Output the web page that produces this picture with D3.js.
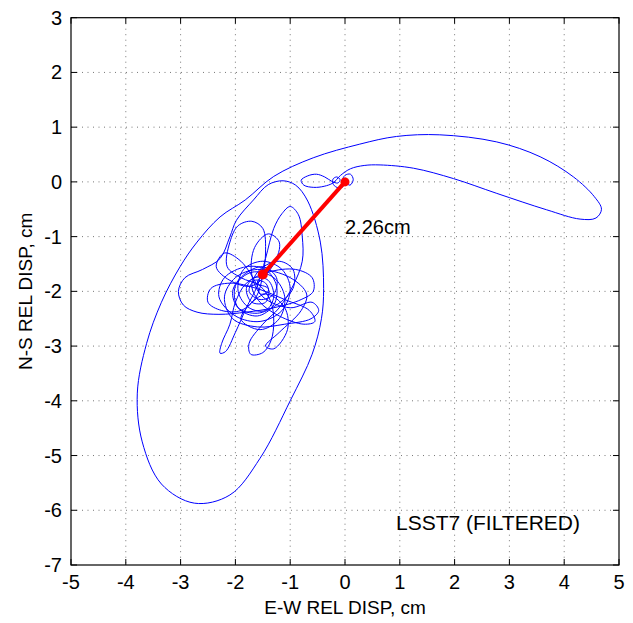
<!DOCTYPE html>
<html>
<head>
<meta charset="utf-8">
<script src="https://cdn.jsdelivr.net/npm/d3@7"></script>
<style>
body { margin: 0; background: #fff; }
text { font-family: "Liberation Sans", Arial, Helvetica, sans-serif; fill: #000; }
</style>
</head>
<body>
<script>

// tick values
let xTicks = [-5, -4, -3, -2, -1, 0, 1, 2, 3, 4, 5];
let yTicks = [3, 2, 1, 0, -1, -2, -3, -4, -5, -6, -7];

// particle path, in cm (E-W, N-S)
let originLoops = [[0.0,0.0],[0.09,-0.06],[0.15,0.04],[0.1,0.14],[0.0,0.12],[-0.05,0.02],[-0.03,-0.08],
  [-0.12,-0.11],[-0.21,-0.05],[-0.22,0.05],[-0.15,0.09],[-0.09,0.04],[-0.13,-0.02],[-0.24,0.01],
  [-0.37,0.09],[-0.52,0.14],[-0.68,0.11],[-0.8,0.03],[-0.75,-0.06],[-0.57,-0.1],[-0.38,-0.08],
  [-0.22,-0.02],[-0.08,0.12],[0.1,0.24]];

let eastLobe = [[0.35,0.3],[0.64,0.31],[1.25,0.25],[1.98,0.06],[2.77,-0.21],[3.68,-0.51],[4.29,-0.68],
  [4.58,-0.66],[4.68,-0.5],[4.55,-0.27],[4.17,0.09],[3.56,0.46],[2.77,0.73],[1.73,0.86],[0.94,0.83],
  [0.27,0.69],[-0.58,0.44],[-1.3,0.1],[-1.82,-0.33],[-2.28,-0.64]];

let southLoop = [[-2.7,-1.1],[-3.01,-1.55],[-3.35,-2.2],[-3.62,-2.95],[-3.79,-3.86],[-3.7,-4.75],
  [-3.35,-5.52],[-2.75,-5.87],[-2.1,-5.72],[-1.55,-5.05],[-1.0,-4.0],[-0.6,-3.15],[-0.43,-2.5],
  [-0.39,-1.95],[-0.45,-1.1],[-0.68,-0.35],[-0.9,-0.06],[-1.13,0.02],[-1.4,-0.05],[-1.67,-0.33],
  [-1.98,-0.7],[-2.1,-1.0],[-2.28,-1.4],[-2.6,-1.6],[-2.92,-1.75],[-3.04,-2.0],[-2.95,-2.25],
  [-2.7,-2.38],[-2.3,-2.42],[-1.8,-2.38]];

let tangle = [[-1.3,-2.3],[-0.8,-2.15],[-0.58,-2.0],[-0.6,-1.75],[-0.9,-1.6],[-1.4,-1.65],[-1.8,-1.85],
  [-2.0,-2.2],[-2.1,-2.6],[-2.25,-2.95],[-2.28,-3.13],[-2.18,-3.1],[-2.0,-2.75],[-1.8,-2.3],[-1.6,-1.9],
  [-1.45,-1.4],[-1.3,-0.85],[-1.15,-0.58],[-1.0,-0.45],[-0.85,-0.6],[-0.78,-1.0],[-0.78,-1.45],
  [-0.95,-1.9],[-1.2,-2.3],[-1.5,-2.6],[-1.75,-2.95],[-1.72,-3.15],[-1.5,-3.12],[-1.35,-2.9],
  [-1.3,-2.55],[-1.35,-2.2],[-1.55,-1.9],[-1.9,-1.75],[-2.15,-1.55],[-2.1,-1.1],[-1.95,-0.8],
  [-1.7,-0.72],[-1.5,-0.85],[-1.45,-1.3],[-1.5,-1.7],[-1.62,-2.1],[-1.9,-2.35],[-2.25,-2.35],
  [-2.5,-2.2],[-2.45,-1.95],[-2.1,-1.85],[-1.6,-1.95],[-1.1,-2.15],[-0.65,-2.35],[-0.55,-2.55],
  [-0.75,-2.6],[-1.2,-2.45],[-1.55,-2.2],[-1.7,-1.9],[-1.55,-1.6],[-1.2,-1.45],[-0.95,-1.6],
  [-0.95,-1.95],[-1.25,-2.25],[-1.6,-2.4],[-1.95,-2.3],[-2.05,-2.0],[-1.85,-1.7],[-1.5,-1.55],
  [-1.25,-1.75],[-1.3,-2.05],[-1.55,-2.15],[-1.75,-2.0],[-1.65,-1.8],[-1.45,-1.85],[-1.4,-2.0],
  [-1.55,-2.05],[-1.6,-1.9]];

let midLoops = [[-1.9,-1.45],[-2.2,-1.3],[-2.35,-1.55],[-2.1,-1.8],[-1.7,-1.9],[-1.3,-1.5],
  [-1.2,-1.1],[-1.4,-0.95],[-1.65,-1.2],[-1.7,-1.7],[-1.5,-2.1],[-1.0,-2.3],[-0.6,-2.2],
  [-0.48,-2.35],[-0.62,-2.5],[-1.1,-2.6],[-1.6,-2.65],[-2.05,-2.5],[-2.2,-2.1],[-2.0,-1.75],
  [-1.6,-1.6],[-1.0,-1.75],[-0.7,-2.05],[-0.8,-2.35],[-1.2,-2.75],[-1.45,-3.0],[-1.3,-3.05],
  [-1.05,-2.7],[-1.1,-2.3],[-1.45,-2.05]];

let core = [[-1.9,-2.5],[-1.55,-2.7],[-1.2,-2.5],[-1.1,-2.1],[-1.3,-1.75],[-1.7,-1.65],[-2.0,-1.9],
  [-1.95,-2.3],[-1.6,-2.45],[-1.3,-2.25],[-1.25,-1.9],[-1.45,-1.6],[-1.8,-1.55],[-2.2,-1.75],
  [-2.3,-2.1],[-2.0,-2.45],[-1.55,-2.55],[-1.15,-2.35],[-1.0,-1.95],[-1.15,-1.6],[-1.5,-1.45],
  [-1.85,-1.6],[-1.95,-2.0],[-1.75,-2.3],[-1.45,-2.35],[-1.3,-2.1],[-1.4,-1.8],[-1.65,-1.75],
  [-1.8,-1.95],[-1.7,-2.2],[-1.45,-2.2],[-1.4,-1.95],[-1.6,-1.85],[-1.5,-1.69]];

// residual displacement, from final position back to the origin
let arrowFrom = [-1.5, -1.69];
let arrowTo = [0.0, 0.0];
let arrowLabel = "2.26cm";
let stationLabel = "LSST7 (FILTERED)";
let xLabel = "E-W REL DISP, cm";
let yLabel = "N-S REL DISP, cm";

let width = 633,
    height = 623,
    plotLeft = 71, plotRight = 619, plotTop = 17.7, plotBottom = 565;

let x = d3.scaleLinear().domain([-5, 5]).range([plotLeft, plotRight]);
let y = d3.scaleLinear().domain([-7, 3]).range([plotBottom, plotTop]);

let svg = d3.select("body").append("svg")
    .attr("width", width)
    .attr("height", height);

// dotted grid
svg.append("g").selectAll("line")
  .data(xTicks.slice(1, -1))
  .enter().append("line")
  .attr("x1", d => x(d)).attr("x2", d => x(d))
  .attr("y1", plotTop).attr("y2", plotBottom)
  .attr("stroke", "#777").attr("stroke-width", 1)
  .attr("stroke-dasharray", "1,4.5");

svg.append("g").selectAll("line")
  .data(yTicks.slice(1, -1))
  .enter().append("line")
  .attr("y1", d => y(d)).attr("y2", d => y(d))
  .attr("x1", plotLeft).attr("x2", plotRight)
  .attr("stroke", "#777").attr("stroke-width", 1)
  .attr("stroke-dasharray", "1,4.5");

// trajectory
let trace = originLoops.concat(eastLobe, southLoop, tangle, midLoops, core);

let line = d3.line()
  .x(d => x(d[0]))
  .y(d => y(d[1]))
  .curve(d3.curveCatmullRom.alpha(0.5));

svg.append("path")
  .datum(trace)
  .attr("d", line)
  .attr("fill", "none")
  .attr("stroke", "#0000ff")
  .attr("stroke-width", 1);

// red displacement line with round markers at both ends
svg.append("line")
  .attr("x1", x(arrowFrom[0])).attr("y1", y(arrowFrom[1]))
  .attr("x2", x(arrowTo[0])).attr("y2", y(arrowTo[1]))
  .attr("stroke", "#ff0000")
  .attr("stroke-width", 4);

svg.selectAll("circle.end")
  .data([arrowFrom, arrowTo])
  .enter().append("circle")
  .attr("class", "end")
  .attr("cx", d => x(d[0])).attr("cy", d => y(d[1]))
  .attr("r", (d, i) => i === 0 ? 5 : 4.5)
  .attr("fill", "#ff0000");

// box + inward ticks
svg.append("rect")
  .attr("x", plotLeft).attr("y", plotTop)
  .attr("width", plotRight - plotLeft).attr("height", plotBottom - plotTop)
  .attr("fill", "none").attr("stroke", "#000").attr("stroke-width", 1.2);

let tk = 6;
let ticks = svg.append("g").attr("stroke", "#000").attr("stroke-width", 1);
xTicks.forEach(function(d) {
  ticks.append("line").attr("x1", x(d)).attr("x2", x(d)).attr("y1", plotBottom).attr("y2", plotBottom - tk);
  ticks.append("line").attr("x1", x(d)).attr("x2", x(d)).attr("y1", plotTop).attr("y2", plotTop + tk);
});
yTicks.forEach(function(d) {
  ticks.append("line").attr("y1", y(d)).attr("y2", y(d)).attr("x1", plotLeft).attr("x2", plotLeft + tk);
  ticks.append("line").attr("y1", y(d)).attr("y2", y(d)).attr("x1", plotRight).attr("x2", plotRight - tk);
});

// tick labels
svg.append("g").selectAll("text")
  .data(xTicks)
  .enter().append("text")
  .attr("x", d => x(d))
  .attr("y", plotBottom + 24)
  .attr("text-anchor", "middle")
  .style("font-size", "20px")
  .text(d => d);

svg.append("g").selectAll("text")
  .data(yTicks)
  .enter().append("text")
  .attr("x", plotLeft - 9)
  .attr("y", d => y(d) + 7)
  .attr("text-anchor", "end")
  .style("font-size", "20px")
  .text(d => d);

// labels
svg.append("text")
  .attr("x", (plotLeft + plotRight) / 2)
  .attr("y", 614)
  .attr("text-anchor", "middle")
  .style("font-size", "19px")
  .text(xLabel);

svg.append("text")
  .attr("transform", "translate(32," + ((plotTop + plotBottom) / 2) + ")rotate(-90)")
  .attr("text-anchor", "middle")
  .style("font-size", "19px")
  .text(yLabel);

svg.append("text")
  .attr("x", x(0))
  .attr("y", 234)
  .style("font-size", "20px")
  .text(arrowLabel);

svg.append("text")
  .attr("x", 396)
  .attr("y", 530)
  .style("font-size", "21px")
  .text(stationLabel);

</script>
</body>
</html>
